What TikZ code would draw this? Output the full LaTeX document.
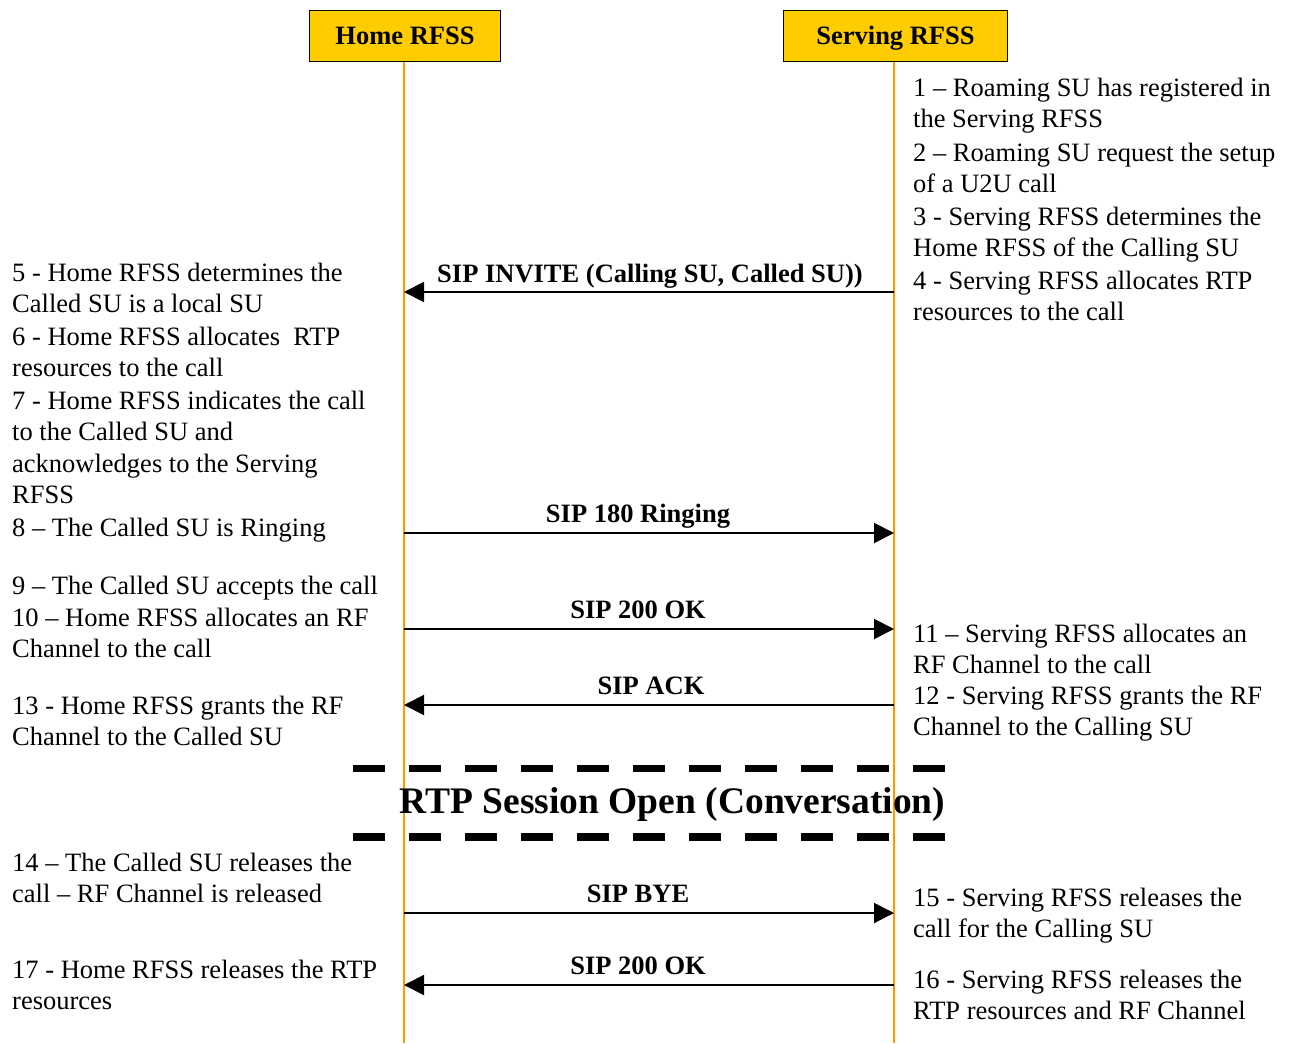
\documentclass[tikz,border=0pt]{standalone}
\usepackage{fontspec}
\setmainfont{Liberation Serif}
\usetikzlibrary{arrows.meta}
\definecolor{rfssgold}{HTML}{FFCC00}
\definecolor{lifeorange}{HTML}{FF9900}
\newcommand{\notefont}{\fontsize{26.5}{31.3}\selectfont}
\newcommand{\hdrfont}{\fontsize{26.5}{31.3}\selectfont\bfseries}

\begin{document}
\begin{tikzpicture}[x=1pt,y=-1pt,
    msg/.style={draw=black,line width=2pt,-{Triangle[length=20pt,width=20pt]}},
    msglabel/.style={anchor=base,font=\hdrfont},
    note/.style={anchor=north west,align=left,inner sep=0pt,font=\notefont},
    sessionline/.style={line width=7.5pt,dash pattern=on 32pt off 24pt}]
\useasboundingbox (0,0) rectangle (1289,1043);

\begin{scope}[every node/.style={draw,line width=1.5pt,fill=rfssgold,minimum height=51pt,text height=18pt,text depth=0pt,font=\hdrfont}]
    \node[minimum width=191pt] (home) at (405,36) {Home RFSS};
    \node[minimum width=224pt] (serving) at (895.5,36) {Serving RFSS};
\end{scope}

\coordinate (homeend) at (404,1043);
\coordinate (servend) at (894,1043);
\draw[draw=lifeorange,line width=2pt] (homeend |- home.south) -- (homeend);
\draw[draw=lifeorange,line width=2pt] (servend |- serving.south) -- (servend);

% messages
\draw[msg] (servend |- 0,292) -- (homeend |- 0,292);
\draw[msg] (homeend |- 0,533) -- (servend |- 0,533);
\draw[msg] (homeend |- 0,629) -- (servend |- 0,629);
\draw[msg] (servend |- 0,705) -- (homeend |- 0,705);
\draw[msg] (homeend |- 0,913) -- (servend |- 0,913);
\draw[msg] (servend |- 0,985) -- (homeend |- 0,985);

\node[msglabel] (invite) at (650,282) {SIP INVITE (Calling SU, Called SU))};
\node[msglabel] (ringing) at (638,522) {SIP 180 Ringing};
\node[msglabel] (ok) at (638,618) {SIP 200 OK};
\node[msglabel] (ack) at (651,694) {SIP ACK};
\node[msglabel] (bye) at (638,902) {SIP BYE};
\node[msglabel] (okbye) at (638,974) {SIP 200 OK};

% session
\draw[sessionline] (353,768.5) -- (946,768.5);
\draw[sessionline] (353,837) -- (946,837);
\node[anchor=base,font=\fontsize{37.5}{40}\selectfont\bfseries] (session) at (672.5,813) {RTP Session Open (Conversation)};

% serving side
\node[note] (s1) at (913,78) {1 – Roaming SU has registered in\\the Serving RFSS};
\node[note] (s2) at (913,143) {2 – Roaming SU request the setup\\of a U2U call};
\node[note] (s3) at (913,207) {3 - Serving RFSS determines the\\Home RFSS of the Calling SU};
\node[note] (s4) at (913,271) {4 - Serving RFSS allocates RTP\\resources to the call};
\node[note] (s11) at (913,624) {11 – Serving RFSS allocates an\\RF Channel to the call};
\node[note] (s12) at (913,686) {12 - Serving RFSS grants the RF\\Channel to the Calling SU};
\node[note] (s15) at (913,888) {15 - Serving RFSS releases the\\call for the Calling SU};
\node[note] (s16) at (913,970) {16 - Serving RFSS releases the\\RTP resources and RF Channel};

% home side
\node[note] (h5) at (12,263) {5 - Home RFSS determines the\\Called SU is a local SU};
\node[note] (h6) at (12,327) {6 - Home RFSS allocates~ RTP\\resources to the call};
\node[note] (h7) at (12,391) {7 - Home RFSS indicates the call\\to the Called SU and\\acknowledges to the Serving\\RFSS};
\node[note] (h8) at (12,518) {8 – The Called SU is Ringing};
\node[note] (h9) at (12,576) {9 – The Called SU accepts the call};
\node[note] (h10) at (12,608) {10 – Home RFSS allocates an RF\\Channel to the call};
\node[note] (h13) at (12,696) {13 - Home RFSS grants the RF\\Channel to the Called SU};
\node[note] (h14) at (12,853) {14 – The Called SU releases the\\call – RF Channel is released};
\node[note] (h17) at (12,960) {17 - Home RFSS releases the RTP\\resources};
\end{tikzpicture}
\end{document}
